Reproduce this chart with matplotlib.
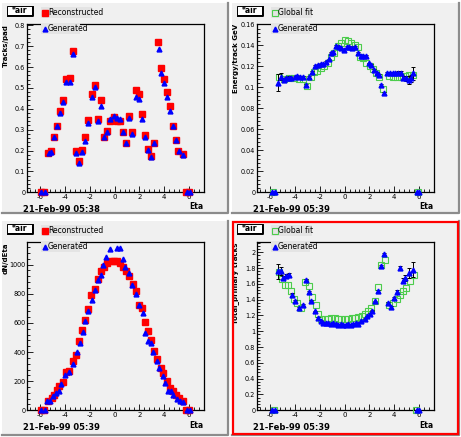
import matplotlib
matplotlib.use('Agg')
import matplotlib.pyplot as plt
from matplotlib.patches import Rectangle
from matplotlib.lines import Line2D
from matplotlib.ticker import MultipleLocator, AutoMinorLocator, FuncFormatter

W, H = 461, 437

# ---- pad 1 : tracks per pad ----
rec_x1 = [-5.95, -5.68, -5.33, -5.14, -4.87, -4.63, -4.39, -4.17, -3.90, -3.58, -3.37, -3.10,
          -2.86, -2.64, -2.38, -2.16, -1.81, -1.57, -1.33, -1.11, -0.87, -0.63,
          -0.36, -0.04, 0.17, 0.44, 0.68, 0.93, 1.17, 1.41, 1.70, 1.97,
          2.21, 2.43, 2.70, 2.94, 3.18, 3.53, 3.74, 3.99, 4.23, 4.47,
          4.68, 4.93, 5.14, 5.49, 5.76, 6.03]
rec_y1 = [0, 0, 0.19, 0.20, 0.267, 0.318, 0.39, 0.44, 0.543, 0.546, 0.677, 0.20,
          0.152, 0.203, 0.267, 0.347, 0.471, 0.514, 0.351, 0.44, 0.267, 0.295,
          0.343, 0.362, 0.343, 0.343, 0.29, 0.238, 0.366, 0.287, 0.49, 0.471,
          0.374, 0.275, 0.209, 0.174, 0.238, 0.722, 0.594, 0.543, 0.479, 0.414,
          0.318, 0.251, 0.20, 0.184, 0, 0]
gen_x1 = [-5.90, -5.63, -5.27, -5.10, -4.85, -4.61, -4.37, -4.12, -3.88, -3.56, -3.32, -3.08,
          -2.84, -2.61, -2.35, -2.11, -1.79, -1.55, -1.30, -1.08, -0.85, -0.61,
          -0.34, -0.02, 0.19, 0.46, 0.70, 0.95, 1.19, 1.44, 1.72, 1.99,
          2.23, 2.46, 2.72, 2.96, 3.20, 3.55, 3.76, 4.01, 4.25, 4.49,
          4.70, 4.95, 5.16, 5.51, 5.80, 6.06]
gen_y1 = [0, 0, 0.19, 0.195, 0.263, 0.318, 0.382, 0.431, 0.528, 0.528, 0.661, 0.19,
          0.139, 0.195, 0.247, 0.334, 0.458, 0.503, 0.343, 0.414, 0.267, 0.29,
          0.351, 0.367, 0.354, 0.351, 0.29, 0.238, 0.354, 0.279, 0.458, 0.447,
          0.351, 0.263, 0.203, 0.168, 0.238, 0.687, 0.57, 0.522, 0.458, 0.391,
          0.318, 0.251, 0.20, 0.179, 0, 0]

# ---- pad 2 : energy per track ----
fit_x2 = [-5.73, -5.30, -4.87, -4.50, -4.07, -3.69, -3.34, -3.00, -2.73, -2.49, -2.20, -1.93,
          -1.67, -1.33, -1.06, -0.85, -0.52, -0.31, 0.01, 0.28, 0.55, 0.82, 1.08, 1.25,
          1.51, 1.76, 2.02, 2.27, 2.53, 2.78, 3.10, 3.55, 3.88, 4.20, 4.52, 4.84, 5.17, 5.54, 5.90]
fit_y2 = [0, 0.1095, 0.1079, 0.1092, 0.1086, 0.1076, 0.1076, 0.1012, 0.1095, 0.1149, 0.1159, 0.1181,
          0.1206, 0.1235, 0.1286, 0.1330, 0.1394, 0.1425, 0.1450, 0.1440, 0.1419, 0.1403, 0.1380, 0.1292,
          0.1276, 0.1229, 0.1203, 0.1171, 0.1140, 0.1095, 0.0984, 0.1108, 0.1095, 0.1095, 0.1095, 0.1108,
          0.1114, 0.1120, 0]
gen_x2 = [-5.85, -5.60, -5.36, -5.14, -4.87, -4.69, -4.50, -4.28, -4.01, -3.80, -3.58, -3.37, -3.07,
          -2.89, -2.62, -2.35, -2.14, -1.92, -1.71, -1.46, -1.28, -1.06, -0.90, -0.69, -0.47,
          -0.26, -0.04, 0.17, 0.39, 0.60, 0.82, 1.09, 1.30, 1.51, 1.73, 1.94, 2.16, 2.37,
          2.59, 2.80, 2.96, 3.18, 3.45, 3.66, 3.88, 4.09, 4.31, 4.52, 4.74, 4.95, 5.17,
          5.38, 5.54, 5.80, 6.02]
gen_y2 = [0, 0, 0.1044, 0.1101, 0.1070, 0.1085, 0.1092, 0.1085, 0.1101, 0.1108, 0.1101, 0.1101, 0.1022,
          0.1095, 0.1149, 0.1203, 0.1212, 0.1219, 0.1222, 0.1244, 0.1266, 0.1324, 0.1339, 0.1393, 0.1387,
          0.1371, 0.1355, 0.1387, 0.1381, 0.1371, 0.1387, 0.1324, 0.1298, 0.1298, 0.1298, 0.1228, 0.1212,
          0.1165, 0.1139, 0.1117, 0.1022, 0.0949, 0.1139, 0.1139, 0.1139, 0.1139, 0.1139, 0.1139, 0.1085,
          0.1085, 0.1070, 0.1085, 0.1133, 0, 0]
err2 = [0, 0, 0.0080, 0.0035, 0.0020, 0.0015, 0.0012, 0.0010, 0.0010, 0.0010, 0.0010, 0.0010, 0.0010,
        0.0008, 0.0008, 0.0008, 0.0008, 0.0008, 0.0008, 0.0008, 0.0008, 0.0008, 0.0008, 0.0008, 0.0008,
        0.0008, 0.0008, 0.0008, 0.0008, 0.0008, 0.0008, 0.0008, 0.0008, 0.0008, 0.0008, 0.0008, 0.0008,
        0.0008, 0.0008, 0.0008, 0.0010, 0.0010, 0.0010, 0.0010, 0.0010, 0.0010, 0.0012, 0.0015, 0.0020,
        0.0025, 0.0040, 0.0030, 0.0065, 0, 0]

# ---- pad 3 : dN/dEta ----
rec_x3 = [-5.95, -5.68, -5.33, -5.06, -4.87, -4.66, -4.44, -4.17, -3.93, -3.64, -3.37, -3.10,
          -2.89, -2.62, -2.35, -2.16, -1.87, -1.57, -1.33, -1.09, -0.85, -0.58, -0.31, -0.04,
          0.20, 0.44, 0.68, 0.93, 1.17, 1.46, 1.70, 2.00, 2.21, 2.46, 2.70, 2.94, 3.18,
          3.45, 3.72, 3.93, 4.20, 4.47, 4.68, 4.93, 5.19, 5.49, 5.76, 6.03]
rec_y3 = [0, 0, 66, 85, 108, 142, 165, 195, 261, 272, 341, 382,
          478, 551, 620, 698, 794, 835, 904, 954, 982, 1014, 1023, 1027,
          1022, 1008, 982, 954, 920, 867, 822, 725, 703, 606, 547, 485, 410,
          350, 291, 259, 199, 153, 130, 103, 85, 62, 0, 0]
gen_x3 = [-5.90, -5.62, -5.46, -5.19, -4.93, -4.71, -4.50, -4.28, -3.96, -3.64, -3.32, -2.99,
          -2.78, -2.56, -2.38, -2.11, -1.84, -1.57, -1.36, -1.11, -0.90, -0.68, -0.36,
          0.23, 0.44, 0.66, 0.87, 1.14, 1.41, 1.73, 2.00, 2.27, 2.48, 2.70, 2.91, 3.13,
          3.40, 3.61, 3.88, 4.09, 4.34, 4.52, 4.74, 5.01, 5.28, 5.49, 5.80, 6.05]
gen_y3 = [0, 0, 66, 66, 96, 119, 135, 181, 245, 263, 318, 400,
          462, 538, 611, 684, 760, 828, 897, 927, 1000, 1050, 1110,
          1114, 1114, 1041, 982, 943, 863, 799, 721, 668, 531, 478, 462, 400,
          336, 291, 233, 188, 130, 130, 108, 80, 62, 57, 0, 0]

# ---- pad 4 : total primary tracks ----
fit_x4 = [-5.70, -5.30, -5.03, -4.82, -4.55, -4.34, -4.07, -3.80, -3.48, -3.16, -2.89, -2.62,
          -2.32, -2.14, -1.87, -1.60, -1.33, -1.06, -0.79, -0.52, -0.25, 0.02, 0.29, 0.56,
          0.83, 1.10, 1.37, 1.68, 1.89, 2.16, 2.43, 2.70, 2.96, 3.23, 3.56, 3.88, 4.20,
          4.47, 4.74, 4.95, 5.27, 5.59, 5.78]
fit_y4 = [0, 1.745, 1.666, 1.582, 1.582, 1.514, 1.413, 1.358, 1.295, 1.624, 1.569, 1.430,
          1.329, 1.219, 1.160, 1.150, 1.160, 1.170, 1.170, 1.160, 1.160, 1.160, 1.160, 1.170,
          1.170, 1.180, 1.190, 1.219, 1.261, 1.295, 1.388, 1.557, 1.835, 1.907, 1.329, 1.358, 1.413,
          1.464, 1.506, 1.548, 1.632, 1.717, 0]
gen_x4 = [-5.85, -5.60, -5.33, -5.14, -4.93, -4.71, -4.50, -4.26, -3.99, -3.64, -3.37, -3.10,
          -2.89, -2.67, -2.40, -2.13, -1.92, -1.70, -1.50, -1.30, -1.10, -0.90, -0.70, -0.50,
          -0.30, -0.10, 0.10, 0.30, 0.50, 0.70, 0.90, 1.09, 1.35, 1.62, 1.84, 2.05, 2.21,
          2.48, 2.70, 2.96, 3.18, 3.50, 3.77, 3.98, 4.25, 4.47, 4.68, 4.87, 5.17, 5.49,
          5.80, 6.02]
gen_y4 = [0, 0, 1.759, 1.760, 1.675, 1.696, 1.717, 1.464, 1.388, 1.295, 1.329, 1.654,
          1.497, 1.388, 1.253, 1.168, 1.130, 1.110, 1.100, 1.100, 1.090, 1.100, 1.090, 1.080,
          1.090, 1.080, 1.080, 1.090, 1.080, 1.090, 1.100, 1.092, 1.126, 1.160, 1.189, 1.219, 1.261,
          1.379, 1.514, 1.822, 1.978, 1.358, 1.303, 1.421, 1.497, 1.801, 1.640, 1.675, 1.738, 1.780,
          0, 0]
err4 = [0, 0, 0.095, 0.050, 0.030, 0.025, 0.020, 0.015, 0.012, 0.012, 0.012, 0.012,
        0.010, 0.010, 0.010, 0.008, 0.008, 0.008, 0.008, 0.008, 0.008, 0.008, 0.008, 0.008,
        0.008, 0.008, 0.008, 0.008, 0.008, 0.008, 0.008, 0.008, 0.008, 0.008, 0.008, 0.008, 0.010,
        0.010, 0.012, 0.012, 0.015, 0.012, 0.015, 0.015, 0.020, 0.020, 0.030, 0.040, 0.060, 0.095,
        0, 0]

PAD = '#f0f0f0'
BOX = '#e4e4e4'
RED = '#ff0000'
BLUE = '#0000ff'
GREEN = '#4ccc4c'
DATE_TOP = '21-Feb-99 05:38'
DATE = '21-Feb-99 05:39'

fig = plt.figure(figsize=(W / 100, H / 100), dpi=100)
fig.patch.set_facecolor('white')


def fx(x):
    return x / W


def fy(y):
    return 1 - y / H


def frame(x0, y0, x1, y1, face, edge=None, lw=0.8, z=4, shadow=False):
    # rectangle given in pixel coordinates from the top left corner
    fig.add_artist(Rectangle((fx(x0), fy(y1)), (x1 - x0) / W, (y1 - y0) / H,
                             transform=fig.transFigure, facecolor=face,
                             edgecolor=edge if edge else 'none', lw=lw, zorder=z))
    if shadow:
        fig.add_artist(Line2D([fx(x0 + 1), fx(x1 + 1), fx(x1 + 1)],
                              [fy(y1 + 1), fy(y1 + 1), fy(y0 + 1)],
                              transform=fig.transFigure, color='black', lw=1.4, zorder=z))


def draw_pad(ox, oy, w, h, ylabel, ylim, ymajor, yfmt, date, legend, active=False):
    # pad background with a bevelled edge
    frame(ox + 2, oy + 3, ox + w, oy + h, PAD, z=-2)
    fig.add_artist(Line2D([fx(ox + 2), fx(ox + w), fx(ox + w)],
                          [fy(oy + h), fy(oy + h), fy(oy + 3)],
                          transform=fig.transFigure, color='#8c8c8c', lw=1.6, zorder=-1))
    if active:
        frame(ox + 3, oy + 4, ox + w - 1, oy + h - 1, 'none', edge=RED, lw=1.6, z=6)

    L, R, T, B = ox + 27, ox + 204, oy + 24, oy + 192.3
    ax = fig.add_axes([fx(L), fy(B), (R - L) / W, (B - T) / H])
    ax.set_facecolor(PAD)
    ax.set_xlim(-7.05, 7.2)
    ax.set_ylim(*ylim)
    ax.xaxis.set_major_locator(MultipleLocator(2))
    ax.xaxis.set_minor_locator(AutoMinorLocator(5))
    ax.yaxis.set_major_locator(MultipleLocator(ymajor))
    ax.yaxis.set_minor_locator(AutoMinorLocator(5))
    ax.xaxis.set_major_formatter(FuncFormatter(lambda v, p: '%g' % v))
    ax.yaxis.set_major_formatter(FuncFormatter(yfmt))
    ax.tick_params(which='both', direction='in', top=False, right=False,
                   labelsize=5, width=0.6, pad=1.5)
    ax.tick_params(axis='y', labelsize=4.7, pad=1.2)
    ax.tick_params(which='major', length=4)
    ax.tick_params(which='minor', length=2)
    for s in ax.spines.values():
        s.set_linewidth(0.9)

    fig.text(fx(ox + 6), fy(oy + 24), ylabel, rotation=90, ha='center', va='top',
             fontsize=5, fontweight='bold')
    fig.text(fx(ox + 203), fy(oy + 207), 'Eta', ha='right', va='center',
             fontsize=5.5, fontweight='bold')
    fig.text(fx(ox + 23), fy(oy + 210), date, ha='left', va='center',
             fontsize=6, fontweight='bold')

    # title box and legend entries
    frame(ox + 7, oy + 6, ox + 32, oy + 15, 'white', edge='black', lw=0.7, z=5, shadow=True)
    fig.text(fx(ox + 19.5), fy(oy + 10.5), '*air', ha='center', va='center',
             fontsize=5.5, fontweight='bold', zorder=6)
    for i, (text, kind, width) in enumerate(legend):
        y0 = oy + 7 + i * 16
        frame(ox + 41, y0, ox + 41 + width, y0 + 11, BOX, z=5)
        mx, my = fx(ox + 44.5), fy(y0 + 5.5)
        if kind == 'rec':
            fig.add_artist(Line2D([mx], [my], transform=fig.transFigure, marker='s', ms=4,
                                  color=RED, lw=0, zorder=6))
        elif kind == 'fit':
            fig.add_artist(Line2D([mx], [my], transform=fig.transFigure, marker='s', ms=5,
                                  mfc='none', mec=GREEN, mew=0.8, lw=0, zorder=6))
        else:
            fig.add_artist(Line2D([mx], [my], transform=fig.transFigure, marker='^', ms=3.5,
                                  color=BLUE, lw=0, zorder=6))
        fig.text(fx(ox + 48), fy(y0 + 5.5), text, ha='left', va='center',
                 fontsize=5.5, zorder=6)
    return ax


def plot_gen(ax, x, y, err=None):
    if err is not None:
        ax.errorbar(x, y, yerr=err, fmt='none', ecolor='black', elinewidth=0.7,
                    capsize=1.5, capthick=0.7, clip_on=False, zorder=3)
    ax.plot(x, y, ls='none', marker='^', ms=3.5, color=BLUE, clip_on=False, zorder=4)


leg_rec = [('Reconstructed', 'rec', 51), ('Generated', 'gen', 39)]
leg_fit = [('Global fit', 'fit', 41), ('Generated', 'gen', 39)]

ax1 = draw_pad(0, 0, 228, 213, 'Tracks/pad', (0, 0.806), 0.1,
               lambda v, p: '%g' % round(v, 2), DATE_TOP, leg_rec)
ax1.plot(rec_x1, rec_y1, ls='none', marker='s', ms=4, color=RED, clip_on=False, zorder=3)
plot_gen(ax1, gen_x1, gen_y1)

ax2 = draw_pad(230, 0, 229, 213, 'Energy/track GeV', (0, 0.1603), 0.02,
               lambda v, p: '%g' % round(v, 3), DATE, leg_fit)
ax2.plot(fit_x2, fit_y2, ls='none', marker='s', ms=5, mfc='none', mec=GREEN, mew=0.8,
         clip_on=False, zorder=3)
plot_gen(ax2, gen_x2, gen_y2, err2)

ax3 = draw_pad(0, 218, 228, 217, 'dN/dEta', (0, 1155), 200,
               lambda v, p: '%g' % v, DATE, leg_rec)
ax3.plot(rec_x3, rec_y3, ls='none', marker='s', ms=4, color=RED, clip_on=False, zorder=3)
plot_gen(ax3, gen_x3, gen_y3)

ax4 = draw_pad(230, 218, 229, 217, 'Total_primary tracks', (0, 2.13), 0.2,
               lambda v, p: '%g' % round(v, 2), DATE, leg_fit, active=True)
ax4.plot(fit_x4, fit_y4, ls='none', marker='s', ms=5, mfc='none', mec=GREEN, mew=0.8,
         clip_on=False, zorder=3)
plot_gen(ax4, gen_x4, gen_y4, err4)

fig.savefig('out.png', dpi=100, facecolor='white')
